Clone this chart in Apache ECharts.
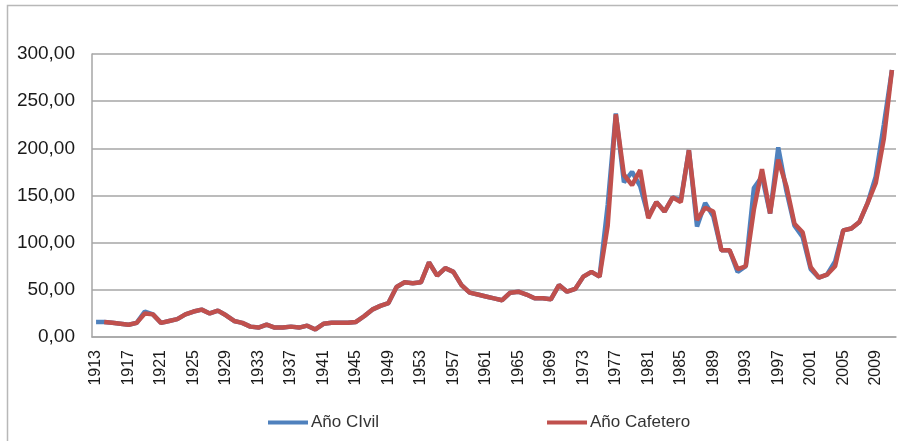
<!DOCTYPE html>
<html><head><meta charset="utf-8">
<script src="https://cdn.jsdelivr.net/npm/echarts@6/dist/echarts.min.js"></script>
<style>html,body{margin:0;padding:0;background:#fff}#c{width:898px;height:441px}</style>
</head><body><div id="c"></div>
<script>
var years = [];
for (var y = 1913; y <= 2011; y++) years.push(String(y));

var civil = [
 16,16,15,14,13,15,27,24,15,17,      // 1913-1922
 19,24,27,29,25,28,23,17,15,11,      // 1923-1932
 10,13,10,10,11,10,12,8,14,15,       // 1933-1942
 15,15,16,22,29,33,36,53,58,57,      // 1943-1952
 58,79,65,73,69,55,47,45,43,41,      // 1953-1962
 39,47,48,45,41,41,40,55,48,51,      // 1963-1972
 64,69,64,140,237,164,175,160,128,143, // 1973-1982
 133,148,145,198,117,142,128,92,92,69, // 1983-1992
 75,158,170,131,201,155,118,106,72,63, // 1993-2002
 66,80,113,115,122,142,170,225,283     // 2003-2011
];
var cafetero = [
 null,16,15,14,13,15,25,24,15,17,
 19,24,27,29,25,28,23,17,15,11,
 10,13,10,10,11,10,12,8,14,15,
 15,15,16,22,29,33,36,53,58,57,
 58,79,65,73,69,55,47,45,43,41,
 39,47,48,45,41,41,40,55,48,51,
 64,69,64,118,236,172,161,177,126,143,
 133,148,143,198,124,137,133,92,92,72,
 75,135,178,131,188,160,120,111,74,63,
 66,75,113,115,122,142,163,210,283
];
var yTicks = [0, 50, 100, 150, 200, 250, 300];

var chart = echarts.init(document.getElementById('c'), null, {renderer: 'canvas'});
var fontFam = '"Liberation Sans", Arial, sans-serif';
chart.setOption({
  animation: false,
  graphic: [{
    type: 'rect', shape: {x: 7.5, y: 5.5, width: 895, height: 440},
    style: {fill: 'none', stroke: '#b8b8b8', lineWidth: 1.5}, silent: true
  }],
  grid: {left: 92, right: 2, top: 54, bottom: 104, containLabel: false},
  legend: {
    data: ['Año CIvil', 'Año Cafetero'],
    left: 263, top: 409,
    itemWidth: 40, itemHeight: 4, itemGap: 168,
    icon: 'rect',
    textStyle: {fontFamily: fontFam, fontSize: 17, color: '#333', padding: [0, 0, 0, -2]}
  },
  xAxis: {
    type: 'category', data: years, boundaryGap: true,
    axisLine: {show: true, lineStyle: {color: '#a6a6a6', width: 1.5}},
    axisTick: {show: false},
    axisLabel: {interval: 3, rotate: 90, margin: 13, fontFamily: fontFam, fontSize: 16, color: '#1a1a1a'}
  },
  yAxis: {
    type: 'value', min: yTicks[0], max: yTicks[yTicks.length - 1], interval: 50,
    axisLine: {show: true, lineStyle: {color: '#a6a6a6', width: 1.5}},
    axisTick: {show: false},
    splitLine: {show: true, lineStyle: {color: '#a6a6a6', width: 1.5}},
    axisLabel: {
      margin: 17, fontFamily: fontFam, fontSize: 19, color: '#1a1a1a',
      formatter: function (v) { return v.toFixed(2).replace('.', ','); }
    }
  },
  series: [
    {name: 'Año CIvil', type: 'line', data: civil, symbol: 'none',
     lineStyle: {color: '#4f81bd', width: 4.5}, itemStyle: {color: '#4f81bd'}},
    {name: 'Año Cafetero', type: 'line', data: cafetero, symbol: 'none',
     lineStyle: {color: '#c0504d', width: 4.5}, itemStyle: {color: '#c0504d'}}
  ]
});
</script></body></html>
